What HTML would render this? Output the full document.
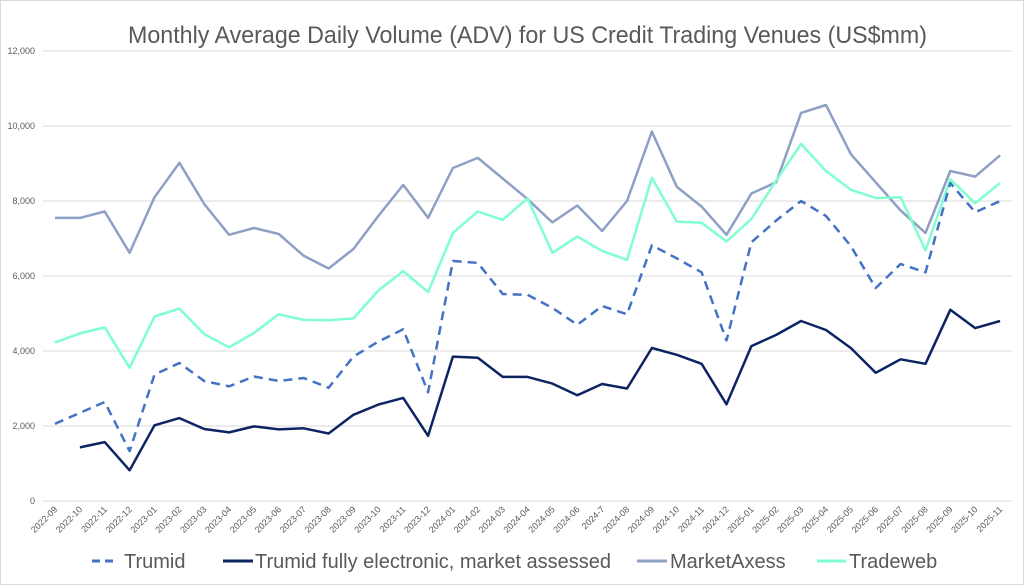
<!DOCTYPE html>
<html><head><meta charset="utf-8"><style>
html,body{margin:0;padding:0;background:#fff;}
svg{display:block;font-family:"Liberation Sans",sans-serif;}
</style></head><body>
<svg id="c" width="1024" height="585" viewBox="0 0 1024 585" xmlns="http://www.w3.org/2000/svg">
<rect x="0.5" y="0.5" width="1023" height="584" fill="#fff" stroke="#d9d9d9"/>
<text x="128" y="43" font-size="24" fill="#595959" textLength="799" lengthAdjust="spacingAndGlyphs">Monthly Average Daily Volume (ADV) for US Credit Trading Venues (US$mm)</text>
<g id="g"></g>
<g font-size="20" fill="#595959">
<line x1="92" y1="561" x2="118" y2="561" stroke="#4472C4" stroke-width="3" stroke-dasharray="8,5"/>
<text x="124" y="568">Trumid</text>
<line x1="223" y1="561" x2="253" y2="561" stroke="#0D2463" stroke-width="3"/>
<text x="255" y="568">Trumid fully electronic, market assessed</text>
<line x1="637" y1="561" x2="667" y2="561" stroke="#8EA0C4" stroke-width="3"/>
<text x="670" y="568">MarketAxess</text>
<line x1="817" y1="561" x2="846" y2="561" stroke="#7FFFD0" stroke-width="3"/>
<text x="849" y="568">Tradeweb</text>
</g>
</svg>
<script>
var g=document.getElementById('g'),h='';
function Y(v){return 501-v*0.0375;}
function X(i){return 55+24.87*i;}
for(var v=0;v<=12000;v+=2000){var y=Y(v);h+='<line x1="43" x2="1012" y1="'+y+'" y2="'+y+'" stroke="#d9d9d9" stroke-width="1"/>';
h+='<text x="35" y="'+(y+3)+'" text-anchor="end" font-size="9" fill="#595959">'+(v?v.toLocaleString('en-US'):'0')+'</text>';}
var labels=[];for(var i=0;i<39;i++){var m=9+i,yr=2022+Math.floor((m-1)/12),mo=((m-1)%12)+1;var l=yr+'-'+(mo<10?'0':'')+mo;if(l=='2024-07')l='2024-7';labels.push(l);}
labels.forEach(function(l,i){var x=X(i)+3,y=510;h+='<text x="'+x+'" y="'+y+'" text-anchor="end" font-size="9" fill="#595959" transform="rotate(-45 '+x+' '+y+')">'+l+'</text>';});
var ma=[7550,7550,7720,6620,8100,9020,7920,7100,7280,7120,6540,6200,6720,7600,8430,7550,8880,9150,8600,8050,7430,7880,7200,8000,9850,8380,7850,7100,8200,8500,10350,10560,9250,8500,7750,7150,8800,8650,9220];
var tw=[4230,4470,4630,3550,4920,5130,4450,4100,4480,4980,4830,4820,4870,5610,6130,5570,7150,7720,7500,8070,6620,7050,6670,6430,8620,7450,7420,6920,7520,8550,9520,8800,8300,8080,8100,6680,8580,7940,8480];
var tr=[2060,2350,2640,1330,3370,3680,3200,3060,3320,3200,3280,3020,3850,4250,4580,2900,6400,6350,5520,5500,5150,4700,5200,4980,6820,6470,6100,4280,6900,7480,8000,7600,6800,5680,6320,6100,8480,7700,8000];
var fe=[null,1430,1570,820,2020,2210,1920,1830,1990,1910,1940,1800,2300,2570,2750,1740,3850,3820,3310,3310,3130,2820,3120,3000,4080,3900,3660,2580,4130,4430,4800,4560,4080,3420,3780,3660,5100,4610,4800];
function P(d,c,extra){var s='';d.forEach(function(v,i){if(v==null)return;s+=(s?'L':'M')+X(i).toFixed(1)+','+Y(v).toFixed(1);});
h+='<path d="'+s+'" fill="none" stroke="'+c+'" stroke-width="2.5" stroke-linejoin="round" '+(extra||'')+'/>';}
P(ma,'#8EA0C4');P(tw,'#7FFFD0');P(tr,'#4472C4','stroke-dasharray="9,6"');P(fe,'#0D2463');
g.innerHTML=h;
</script>
</body></html>
